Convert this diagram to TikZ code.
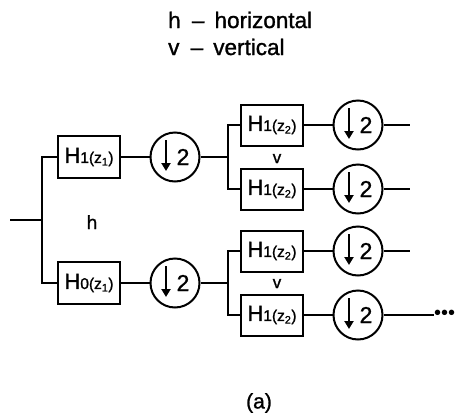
\documentclass[tikz,border=0pt]{standalone}
\usepackage{fontspec}
\setmainfont{Liberation Sans}[BoldFont=Liberation Sans, BoldFeatures={FakeBold=1.2}]
\usepackage{tikz}
\usetikzlibrary{
  arrows.meta,
  positioning,
  calc
}
\newcommand{\filtname}[2]{{\fontsize{22}{22}\selectfont H}{\fontsize{15.5}{15.5}\selectfont #1(z\textsubscript{#2})}}
\newcommand{\dnsamp}{\hspace*{16pt}2}

\begin{document}
\begin{tikzpicture}[
    x=1pt, y=-1pt,
    node distance=28.5pt,
    % Styles
    filterbox/.style={
        rectangle, draw=black, line width=2pt,
        fill=white,
        minimum width=62pt, minimum height=42pt,
        inner sep=0pt, font=\bfseries
    },
    downsamp/.style={
        circle, draw=black, line width=2pt,
        minimum size=49pt, inner sep=0pt,
        font=\fontsize{23}{23}\selectfont\bfseries,
        path picture={
            \draw[line width=2pt, -{Triangle[length=8pt,width=9pt]}]
              ([xshift=-9pt,yshift=17pt]path picture bounding box.center) -- ++(0,-31pt);
        }
    },
    wire/.style={line width=1.4pt},
    lbl/.style={inner sep=0pt, font=\fontsize{22.5}{22.5}\selectfont\bfseries}
]
\useasboundingbox (0,0) rectangle (459,416);

% ── LEGEND ──
\node[lbl, anchor=base west] (legh) at (168,28) {h\hspace{0.5em}–\hspace{0.45em}horizontal};
\node[lbl, anchor=base west] (legv) at (168,55) {v\hspace{0.5em}–\hspace{0.45em}vertical};

% ── STAGE 1: HORIZONTAL SPLIT ──
\coordinate (in) at (10,220);
\coordinate (split1) at (42,220);

\node[filterbox] (h1a) at (89,157) {\filtname{1}{1}};
\node[filterbox] (h0a) at (89,283) {\filtname{0}{1}};
\node[downsamp, right=of h1a] (d1a) {\dnsamp};
\node[downsamp, right=of h0a] (d0a) {\dnsamp};

\node[lbl, anchor=base, font=\fontsize{19}{19}\selectfont\bfseries] (hlab) at (92,229) {h};

\draw[wire] (in) -- (split1);
\draw[wire] (split1) |- (h1a.west);
\draw[wire] (split1) |- (h0a.west);
\draw[wire] (h1a) -- (d1a);
\draw[wire] (h0a) -- (d0a);

% ── STAGE 2: VERTICAL SPLIT ──
\coordinate[right=27.5pt of d1a.east] (split2a);
\coordinate[right=27.5pt of d0a.east] (split2b);

\node[filterbox, minimum height=41pt] (h1b) at (272,125) {\filtname{1}{2}};
\node[filterbox, minimum height=41pt] (h1c) at (272,189) {\filtname{1}{2}};
\node[filterbox, minimum height=41pt] (h1d) at (272,251) {\filtname{1}{2}};
\node[filterbox, minimum height=41pt] (h1e) at (272,315) {\filtname{1}{2}};

\node[downsamp, right=of h1b] (d1b) {\dnsamp};
\node[downsamp, right=of h1c] (d1c) {\dnsamp};
\node[downsamp, right=of h1d] (d1d) {\dnsamp};
\node[downsamp, right=of h1e] (d1e) {\dnsamp};

\node[lbl, anchor=base, font=\fontsize{17}{17}\selectfont\bfseries] (vlaba) at (277,163) {v};
\node[lbl, anchor=base, font=\fontsize{17}{17}\selectfont\bfseries] (vlabb) at (277,288) {v};

\draw[wire] (d1a) -- (split2a);
\draw[wire] (d0a) -- (split2b);
\draw[wire] (split2a) |- (h1b.west);
\draw[wire] (split2a) |- (h1c.west);
\draw[wire] (split2b) |- (h1d.west);
\draw[wire] (split2b) |- (h1e.west);
\draw[wire] (h1b) -- (d1b);
\draw[wire] (h1c) -- (d1c);
\draw[wire] (h1d) -- (d1d);
\draw[wire] (h1e) -- (d1e);

% ── OUTPUTS ──
\coordinate[right=26pt of d1b.east] (outb);
\coordinate[right=26pt of d1c.east] (outc);
\coordinate[right=26pt of d1d.east] (outd);
\node[anchor=west, inner sep=0pt, font=\fontsize{20}{20}\selectfont] (more) at (434,315) {\textbullet\textbullet\textbullet};

\draw[wire] (d1b) -- (outb);
\draw[wire] (d1c) -- (outc);
\draw[wire] (d1d) -- (outd);
\draw[wire] (d1e) -- (more);

% ── CAPTION ──
\node[lbl, font=\fontsize{21}{21}\selectfont\bfseries] (cap) at (259,403) {(a)};

\end{tikzpicture}
\end{document}
